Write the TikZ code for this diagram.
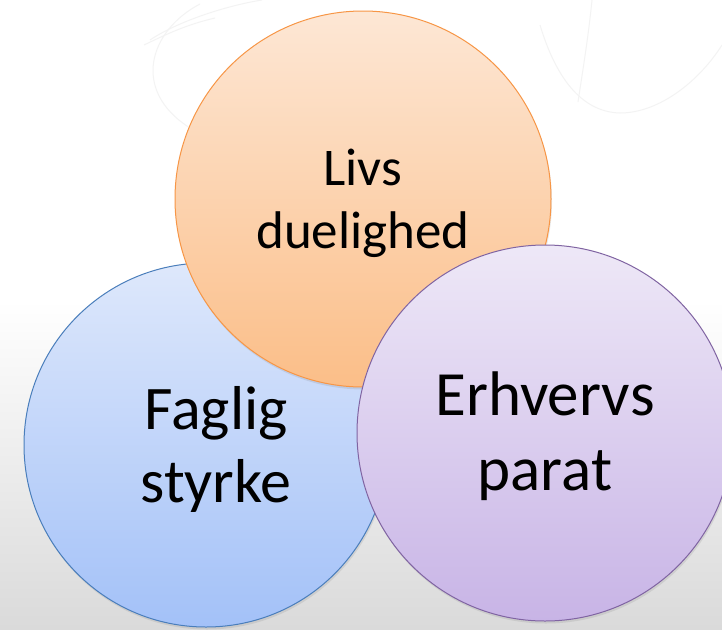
\documentclass[tikz,border=0pt]{standalone}
\usepackage{fontspec}
\setmainfont{Carlito}
\usetikzlibrary{shadows}
\definecolor{orangeLine}{RGB}{247,150,70}
\definecolor{orangeTop}{RGB}{253,231,213}
\definecolor{orangeBot}{RGB}{251,190,136}
\definecolor{blueLine}{RGB}{74,126,187}
\definecolor{blueTop}{RGB}{222,232,251}
\definecolor{blueBot}{RGB}{163,193,248}
\definecolor{purpleLine}{RGB}{128,100,162}
\definecolor{purpleTop}{RGB}{238,232,247}
\definecolor{purpleBot}{RGB}{200,180,230}
\definecolor{bgGray}{RGB}{218,218,218}
\definecolor{swirl}{RGB}{243,243,243}
\tikzset{%
  % circles of the diagram
            bubble/.style = {circle, draw, line width=1pt, inner sep=0pt,
                             drop shadow={opacity=0.18, shadow xshift=1pt, shadow yshift=-2.5pt}},
            lifeBubble/.style = {bubble, draw=orangeLine, top color=orangeTop,
                                 bottom color=orangeBot, minimum size=376pt},
            skillBubble/.style = {bubble, draw=blueLine, top color=blueTop,
                                  bottom color=blueBot, minimum size=364pt},
            workBubble/.style = {bubble, draw=purpleLine, top color=purpleTop,
                                 bottom color=purpleBot, minimum size=376pt},
  % texts in the circles
            bubbleText/.style = {align=center, text=black, inner sep=0pt},
 }
\begin{document}
\begin{tikzpicture}[x=1pt, y=-1pt]
  % background
     \useasboundingbox (0,0) rectangle (722,629);
     \fill[white] (0,0) rectangle (722,300);
     \shade[top color=white, bottom color=bgGray] (0,300) rectangle (722,629);
     \draw[swirl, line width=1pt] (200,4) .. controls (150,30) and (130,90) .. (190,128);
     \draw[swirl, line width=1pt] (144,45) .. controls (165,35) and (185,25) .. (215,18);
     \draw[swirl, line width=1pt] (150,40) .. controls (180,20) and (230,5) .. (262,0);
     \draw[swirl, line width=1pt] (540,25) .. controls (555,75) and (580,112) .. (620,113)
                                          .. controls (660,113) and (700,80) .. (722,45);
     \draw[swirl, line width=1pt] (592,0) .. controls (588,40) and (582,75) .. (578,102);

  % the three circles
     \node (skill) [skillBubble] at (206,445) {};
     \node (life) [lifeBubble] at (363,199) {};
     \node (work) [workBubble] at (545,433) {};

  % their texts
     \node (skillText) [bubbleText, font=\fontsize{62}{73}\selectfont]
           at ([xshift=10pt, yshift=-4pt]skill.center) {Faglig\\styrke};
     \node (lifeText) [bubbleText, font=\fontsize{53}{63}\selectfont]
           at ([yshift=-4pt]life.center) {Livs\\duelighed};
     \node (workText) [bubbleText, font=\fontsize{63}{75}\selectfont]
           at ([yshift=-3pt]work.center) {Erhvervs\\parat};
   \end{tikzpicture}
\end{document}
